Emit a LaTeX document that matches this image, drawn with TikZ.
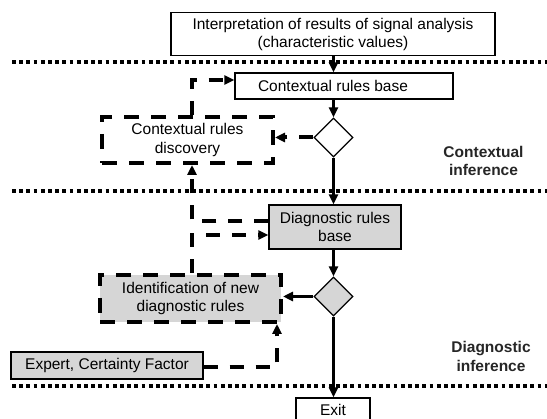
\documentclass[tikz,border=0pt]{standalone}
\usepackage{fontspec}
\setmainfont{Liberation Sans}
\usetikzlibrary{shapes.geometric,arrows.meta}
\definecolor{boxgray}{RGB}{214,214,214}
\begin{document}
\begin{tikzpicture}[x=1pt,y=-1pt,
  txt/.style={font=\fontsize{15.5}{18.5}\selectfont,align=center},
  box/.style={txt,draw,line width=1.3pt,inner sep=0pt},
  gbox/.style={box,fill=boxgray},
  dbox/.style={txt,draw,inner sep=0pt,line width=4pt,dash pattern=on 15pt off 12pt},
  dia/.style={diamond,draw,line width=1.3pt,inner sep=0pt,minimum width=39pt,minimum height=39pt},
  lbl/.style={font=\bfseries\fontsize{15.5}{18.5}\selectfont,align=center,text=black!85},
  tip/.style={-{Triangle[length=10pt,width=9pt]}},
  sol/.style={tip,line width=3pt},
  dsh/.style={tip,line width=4pt,dash pattern=on 14pt off 12pt},
  dotline/.style={line width=3.6pt,dash pattern=on 3.8pt off 3.4pt}
]
\useasboundingbox (0,0) rectangle (547,419);
% dividers
\coordinate (l1a) at (12,62.3); \coordinate (l1b) at (547,62.3);
\coordinate (l2a) at (12,191); \coordinate (l2b) at (547,191);
\coordinate (l3a) at (12,386); \coordinate (l3b) at (547,386);
\draw[dotline] (l1a) -- (l1b);
\draw[dotline] (l2a) -- (l2b);
\draw[dotline] (l3a) -- (l3b);
% nodes
\node[box,minimum width=324,minimum height=43] (top) at (333,34.3)
  {Interpretation of results of signal analysis\\(characteristic values)};
\node[box,minimum width=218,minimum height=26] (crb) at (344,86)
  {\hspace*{-11pt}Contextual rules base\hspace*{11pt}};
\node[dia] (d1) at (333.5,137.5) {};
\node[dbox,minimum width=171,minimum height=46] (disc) at (187.5,140) {Contextual rules\\discovery};
\node[gbox,minimum width=132,minimum height=44] (diag) at (335,227) {Diagnostic rules\\base};
\node[dia,fill=boxgray] (d2) at (333.5,296.5) {};
\node[dbox,fill=boxgray,minimum width=181,minimum height=47] (ident) at (190.5,298.5)
  {Identification of new\\diagnostic rules};
\node[gbox,minimum width=192,minimum height=27] (expert) at (107,365.5) {Expert, Certainty Factor};
\node[box,minimum width=74,minimum height=24] (exit) at (333,410) {Exit};
\node[lbl] (lc) at (483.5,161) {Contextual\\inference};
\node[lbl] (ld) at (491,356.5) {Diagnostic\\inference};
% axis
\coordinate (ax) at (333.5,0);
\draw[sol] (top.south -| ax) -- (crb.north -| ax);
\draw[sol] (crb.south -| ax) -- (d1.north);
\draw[sol] (d1.south) -- (diag.north -| ax);
\draw[sol] (diag.south -| ax) -- (d2.north);
\draw[sol] (d2.south) -- (exit.north -| ax);
% side connectors
\coordinate (c1) at (191.5,80);
\coordinate (c2) at (192,221);
\coordinate (c3) at (192,235);
\coordinate (c4) at (277,367);
\draw[dsh] (disc.north -| c1) -- (c1) -- (crb.west |- c1);
\draw[dsh] (d1.west) -- (disc.east |- d1.west);
\draw[dsh] (diag.west |- c2) -- (c2) -- (disc.south -| c2);
\draw[dsh] (ident.north -| c3) -- (c3) -- (diag.west |- c3);
\draw[sol] (d2.west) -- (ident.east |- d2.west);
\draw[dsh] (expert.east |- c4) -- (c4) -- (ident.south -| c4);
\end{tikzpicture}
\end{document}
